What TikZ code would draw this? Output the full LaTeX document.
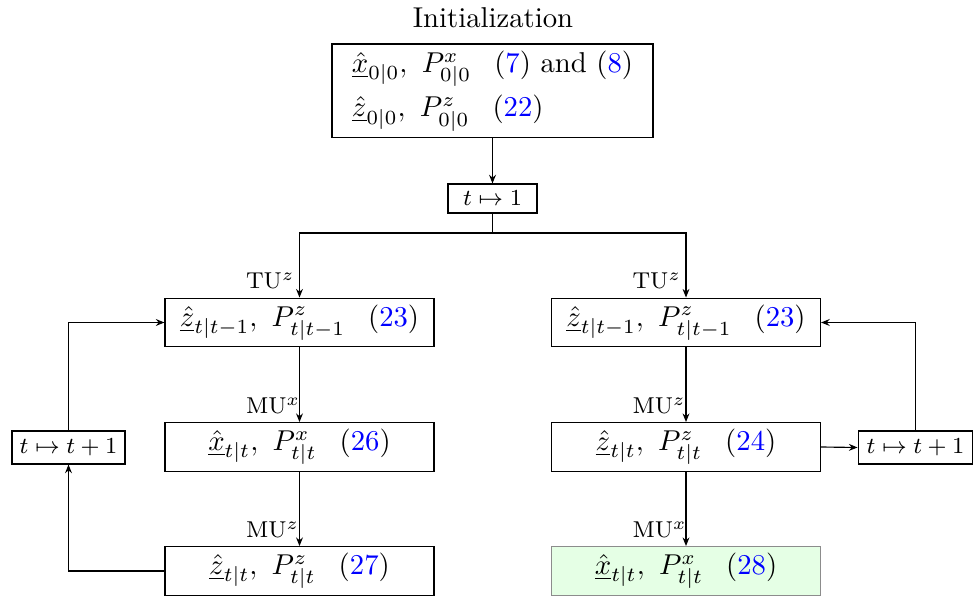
\documentclass[tikz,border=0pt]{standalone}
\usetikzlibrary{arrows.meta}
\begin{document}
\begin{tikzpicture}[x=0.3484pt,y=-0.3484pt,
  box/.style={draw, minimum width=93.7pt, minimum height=17pt, inner sep=0pt},
  smallbox/.style={draw, minimum height=10.5pt, inner sep=0pt, font=\footnotesize},
  arr/.style={-{Stealth[length=3pt,width=2.4pt]}},
  lbl/.style={anchor=base west, inner sep=0pt, xshift=-18.8pt, yshift=3pt, font=\footnotesize}]
\path[use as bounding box] (0,0) rectangle (976,596);

\node (init) at (493,18) {Initialization};
\node[draw, minimum width=111.8pt, minimum height=32.7pt, align=left, inner sep=0pt] (top) at (492.5,91)
  {$\underline{\hat{x}}_{0|0},\ P^x_{0|0}\hspace{8pt}$(\textcolor{blue}{7}) and (\textcolor{blue}{8})\\[2pt]
   $\underline{\hat{z}}_{0|0},\ P^z_{0|0}\hspace{8pt}$(\textcolor{blue}{22})};

\node[smallbox, minimum width=31pt, minimum height=10.1pt] (t1) at (492.5,198.5) {$t\mapsto 1$};

\node[box] (L1) at (299.5,322.5) {$\underline{\hat{z}}_{t|t-1},\ P^z_{t|t-1}\hspace{8pt}$(\textcolor{blue}{23})};
\node[box] (L2) at (299.5,447) {$\underline{\hat{x}}_{t|t},\ P^x_{t|t}\hspace{8pt}$(\textcolor{blue}{26})};
\node[box] (L3) at (299.5,571) {$\underline{\hat{z}}_{t|t},\ P^z_{t|t}\hspace{8pt}$(\textcolor{blue}{27})};

\node[box] (R1) at (686,322.5) {$\underline{\hat{z}}_{t|t-1},\ P^z_{t|t-1}\hspace{8pt}$(\textcolor{blue}{23})};
\node[box] (R2) at (686,447) {$\underline{\hat{z}}_{t|t},\ P^z_{t|t}\hspace{8pt}$(\textcolor{blue}{24})};
\node[box, draw=black!45, fill=green!10] (R3) at (686,571) {$\underline{\hat{x}}_{t|t},\ P^x_{t|t}\hspace{8pt}$(\textcolor{blue}{28})};

\node[smallbox, minimum width=39.4pt, minimum height=11.5pt] (LT) at (68.5,447.5) {$t\mapsto t+1$};
\node[smallbox, minimum width=40pt, minimum height=11.5pt] (RT) at (915.5,447.5) {$t\mapsto t+1$};

\coordinate (br) at (492.5,233);
\coordinate (lc) at (68.5,322.5);
\coordinate (rc) at (915.5,322.5);

\draw[arr] (top) -- (t1);
\draw (t1) -- (br);
\draw[arr] (br) -| (L1.north) node[lbl] {TU$^z$};
\draw[arr] (br) -| (R1.north) node[lbl] {TU$^z$};
\draw[arr] (L1) -- (L2.north) node[lbl] {MU$^x$};
\draw[arr] (L2) -- (L3.north) node[lbl] {MU$^z$};
\draw[arr] (R1) -- (R2.north) node[lbl] {MU$^z$};
\draw[arr] (R2) -- (R3.north) node[lbl] {MU$^x$};

\draw[arr] (L3.west) -| (LT.south);
\draw[arr] (LT.north) -- (lc) -- (L1.west);
\draw[arr] (R2.east) -- (RT.west);
\draw[arr] (RT.north) -- (rc) -- (R1.east);
\end{tikzpicture}
\end{document}
